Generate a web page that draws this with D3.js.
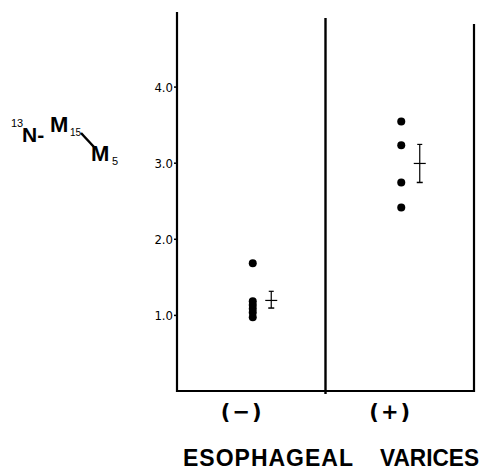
<!DOCTYPE html>
<html>
<head>
<meta charset="utf-8">
<script src="https://cdn.jsdelivr.net/npm/d3@7"></script>
<style>
  body { margin: 0; background: #fff; }
  .tick-label { font-family: "Liberation Sans Narrow", "DejaVu Sans Condensed", sans-serif; font-size: 13px; }
  .bold { font-family: "Liberation Sans", Arial, sans-serif; font-weight: bold; }
</style>
</head>
<body>
<div id="chart"></div>
<script>
// Data
var groups = ["(\u2212)", "(+)"];
var negValues = [1.68, 1.18, 1.13, 1.08, 1.03, 0.97];
var posValues = [3.54, 3.23, 2.74, 2.41];
var means = [1.19, 2.99];
var errLow = [1.09, 2.74];
var errHigh = [1.31, 3.24];
var yTicks = [1.0, 2.0, 3.0, 4.0];

var svgWidth = 481;
var svgHeight = 473;

var svg = d3.select("#chart")
  .append("svg")
  .attr("width", svgWidth)
  .attr("height", svgHeight);

// scales
var xScale = d3.scaleBand()
  .domain(groups)
  .range([177, 474]);

var yScale = d3.scaleLinear()
  .domain([0, 4.98])
  .range([391, 12]);

// left axis
var leftAxis = d3.axisLeft(yScale)
  .tickValues(yTicks)
  .tickFormat(d3.format(".1f"))
  .tickSize(3)
  .tickSizeOuter(0);

var yAxis = svg.append("g")
  .attr("transform", "translate(177,0)")
  .call(leftAxis);
yAxis.select(".domain").remove();
yAxis.selectAll("line").attr("stroke", "#000").attr("stroke-width", 1.5);
yAxis.selectAll("text")
  .attr("class", "tick-label")
  .attr("x", -4)
  .attr("dy", "0.35em")
  .attr("fill", "#000");

// frame lines: left axis, middle divider, right line, bottom
var bandW = xScale.bandwidth();
svg.append("line")
  .attr("x1", 177).attr("x2", 177)
  .attr("y1", yScale(4.98)).attr("y2", 392)
  .attr("stroke", "#000").attr("stroke-width", 2.2);
svg.append("line")
  .attr("x1", xScale(groups[1])).attr("x2", xScale(groups[1]))
  .attr("y1", 18).attr("y2", 394)
  .attr("stroke", "#000").attr("stroke-width", 2.4);
svg.append("line")
  .attr("x1", 474).attr("x2", 474)
  .attr("y1", 24).attr("y2", 392)
  .attr("stroke", "#000").attr("stroke-width", 2.2);
svg.append("line")
  .attr("x1", 176).attr("x2", 475)
  .attr("y1", 391).attr("y2", 391)
  .attr("stroke", "#000").attr("stroke-width", 2);

// points
var pts = negValues.map(function(v) { return {g: groups[0], v: v}; })
  .concat(posValues.map(function(v) { return {g: groups[1], v: v}; }));

svg.selectAll("circle.pt")
  .data(pts)
  .enter()
  .append("circle")
  .attr("class", "pt")
  .attr("cx", d => xScale(d.g) + bandW / 2 + 1.5)
  .attr("cy", d => yScale(d.v))
  .attr("r", 4)
  .attr("fill", "#000");

// mean +/- bars
var meanData = groups.map(function(g, i) {
  return {g: g, m: means[i], lo: errLow[i], hi: errHigh[i]};
});

var meanGroup = svg.selectAll("g.mean")
  .data(meanData)
  .enter()
  .append("g")
  .attr("class", "mean")
  .attr("transform", d => `translate(${xScale(d.g) + bandW / 2 + 20},0)`);

meanGroup.append("line")
  .attr("x1", 0).attr("x2", 0)
  .attr("y1", d => yScale(d.hi)).attr("y2", d => yScale(d.lo))
  .attr("stroke", "#000").attr("stroke-width", 1.2);
meanGroup.append("line")
  .attr("x1", -6).attr("x2", 6)
  .attr("y1", d => yScale(d.m)).attr("y2", d => yScale(d.m))
  .attr("stroke", "#000").attr("stroke-width", 1.2);
meanGroup.append("line")
  .attr("x1", -2.5).attr("x2", 2.5)
  .attr("y1", d => yScale(d.hi)).attr("y2", d => yScale(d.hi))
  .attr("stroke", "#000").attr("stroke-width", 1.2);
meanGroup.append("line")
  .attr("x1", -3).attr("x2", 3)
  .attr("y1", d => yScale(d.lo)).attr("y2", d => yScale(d.lo))
  .attr("stroke", "#000").attr("stroke-width", 1.5);

// category labels
svg.selectAll("text.cat")
  .data(groups)
  .enter()
  .append("text")
  .attr("class", "cat bold")
  .attr("x", d => xScale(d) + bandW / 2 - 9)
  .attr("y", 419)
  .attr("text-anchor", "middle")
  .style("font-family", "'DejaVu Sans', sans-serif")
  .style("font-size", "21px")
  .style("letter-spacing", "2px")
  .text(d => d);

// x title, two words with a wide gap
svg.append("text")
  .attr("class", "bold")
  .attr("x", 183)
  .attr("y", 466)
  .attr("textLength", 170)
  .attr("lengthAdjust", "spacing")
  .style("font-size", "23px")
  .text("ESOPHAGEAL");
svg.append("text")
  .attr("class", "bold")
  .attr("x", 380)
  .attr("y", 466)
  .attr("textLength", 99)
  .attr("lengthAdjust", "spacingAndGlyphs")
  .style("font-size", "23px")
  .text("VARICES");

// y title: 13N- M15/M5
var yt = svg.append("g").attr("class", "bold");
yt.append("text").attr("x", 11).attr("y", 127)
  .style("font-size", "11px").style("font-weight", "normal").text("13");
yt.append("text").attr("x", 22).attr("y", 142)
  .style("font-size", "21px").text("N-");
yt.append("text").attr("x", 50).attr("y", 132)
  .style("font-size", "22px").text("M");
yt.append("text").attr("x", 70).attr("y", 136)
  .style("font-size", "10px").style("font-weight", "normal").text("15");
yt.append("line")
  .attr("x1", 81).attr("y1", 133).attr("x2", 94).attr("y2", 147)
  .attr("stroke", "#000").attr("stroke-width", 2.5);
yt.append("text").attr("x", 91).attr("y", 161)
  .style("font-size", "22px").text("M");
yt.append("text").attr("x", 112).attr("y", 165)
  .style("font-size", "11px").style("font-weight", "normal").text("5");
</script>
</body>
</html>
